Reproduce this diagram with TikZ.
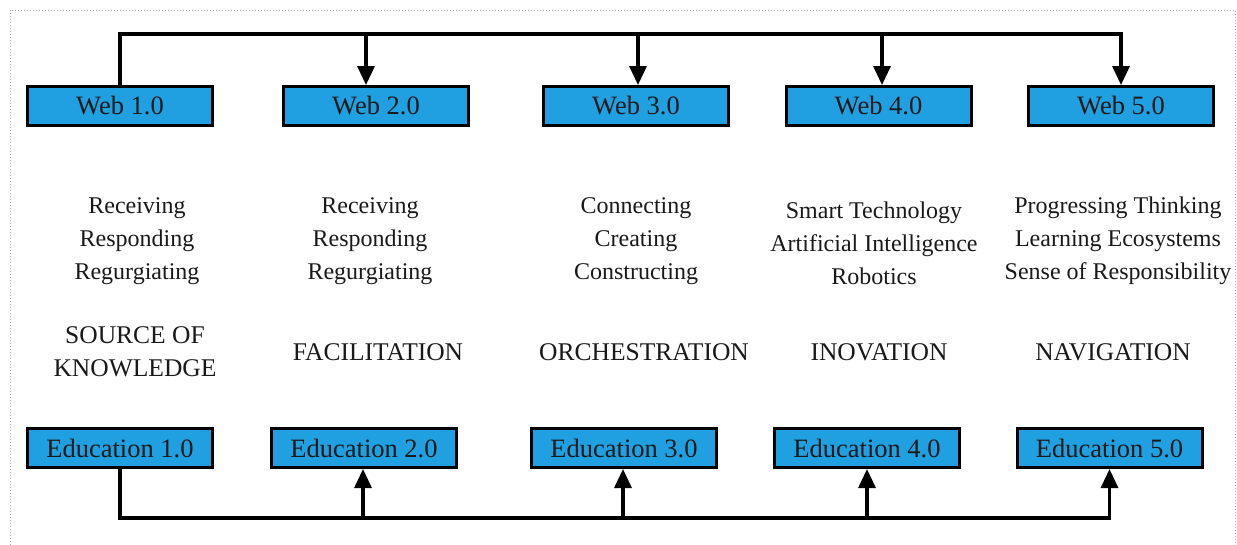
\documentclass[tikz,border=0pt]{standalone}
\usepackage{fontspec}
\setmainfont{Liberation Serif}
\usetikzlibrary{arrows.meta}
\definecolor{boxblue}{RGB}{32,160,224}
\definecolor{ink}{RGB}{25,25,25}
\tikzset{
  box/.style={draw=black, line width=3pt, fill=boxblue, minimum width=185pt, minimum height=39pt, inner sep=0pt, text=ink, font=\fontsize{26.5}{30}\selectfont},
  conn/.style={line width=3.2pt, draw=black},
  arr/.style={conn, -{Triangle[length=19pt,width=17pt]}},
  txt/.style={align=center, text=ink, font=\fontsize{24}{33}\selectfont},
  captxt/.style={align=center, text=ink, font=\fontsize{25.5}{33}\selectfont},
}
\begin{document}
\begin{tikzpicture}[x=1pt,y=-1pt]
\useasboundingbox (0,0) rectangle (1237,544);
\draw[gray!70, line width=1pt, dotted] (10,560) -- (10,10) -- (1235,10) -- (1235,560);

\node[box] (web1) at (120,106) {Web 1.0};
\node[box] (web2) at (376,106) {Web 2.0};
\node[box] (web3) at (636,106) {Web 3.0};
\node[box] (web4) at (878.5,106) {Web 4.0};
\node[box] (web5) at (1121,106) {Web 5.0};

\node[box] (edu1) at (120,448) {Education 1.0};
\node[box] (edu2) at (364,448) {Education 2.0};
\node[box] (edu3) at (624,448) {Education 3.0};
\node[box] (edu4) at (867,448) {Education 4.0};
\node[box] (edu5) at (1109.5,448) {Education 5.0};

\node[txt] (t1) at (137,241) {Receiving\\Responding\\Regurgiating};
\node[txt] (t2) at (370,241) {Receiving\\Responding\\Regurgiating};
\node[txt] (t3) at (636,241) {Connecting\\Creating\\Constructing};
\node[txt] (t4) at (874,243) {Smart Technology\\Artificial Intelligence\\Robotics};
\node[txt] (t5) at (1118,241) {Progressing Thinking\\Learning Ecosystems\\Sense of Responsibility};

\node[captxt] (c1) at (135,351.5) {SOURCE OF\\KNOWLEDGE};
\node[captxt] (c2) at (378,352) {FACILITATION};
\node[captxt] (c3) at (644,352) {ORCHESTRATION};
\node[captxt] (c4) at (879,352) {INOVATION};
\node[captxt] (c5) at (1113,352) {NAVIGATION};

% top connectors
\coordinate (a2) at (366,34);
\coordinate (a3) at (638,34);
\coordinate (a4) at (882,34);
\coordinate (a5) at (1121,34);
\draw[arr] (web1.north) |- (a5) -- (web5.north);
\draw[arr] (a2) -- (a2 |- web2.north);
\draw[arr] (a3) -- (a3 |- web3.north);
\draw[arr] (a4) -- (a4 |- web4.north);

% bottom connectors
\coordinate (b2) at (363,518);
\coordinate (b3) at (623,518);
\coordinate (b4) at (867,518);
\coordinate (b5) at (1109.5,518);
\draw[arr] (edu1.south) |- (b5) -- (edu5.south);
\draw[arr] (b2) -- (b2 |- edu2.south);
\draw[arr] (b3) -- (b3 |- edu3.south);
\draw[arr] (b4) -- (b4 |- edu4.south);
\end{tikzpicture}
\end{document}
